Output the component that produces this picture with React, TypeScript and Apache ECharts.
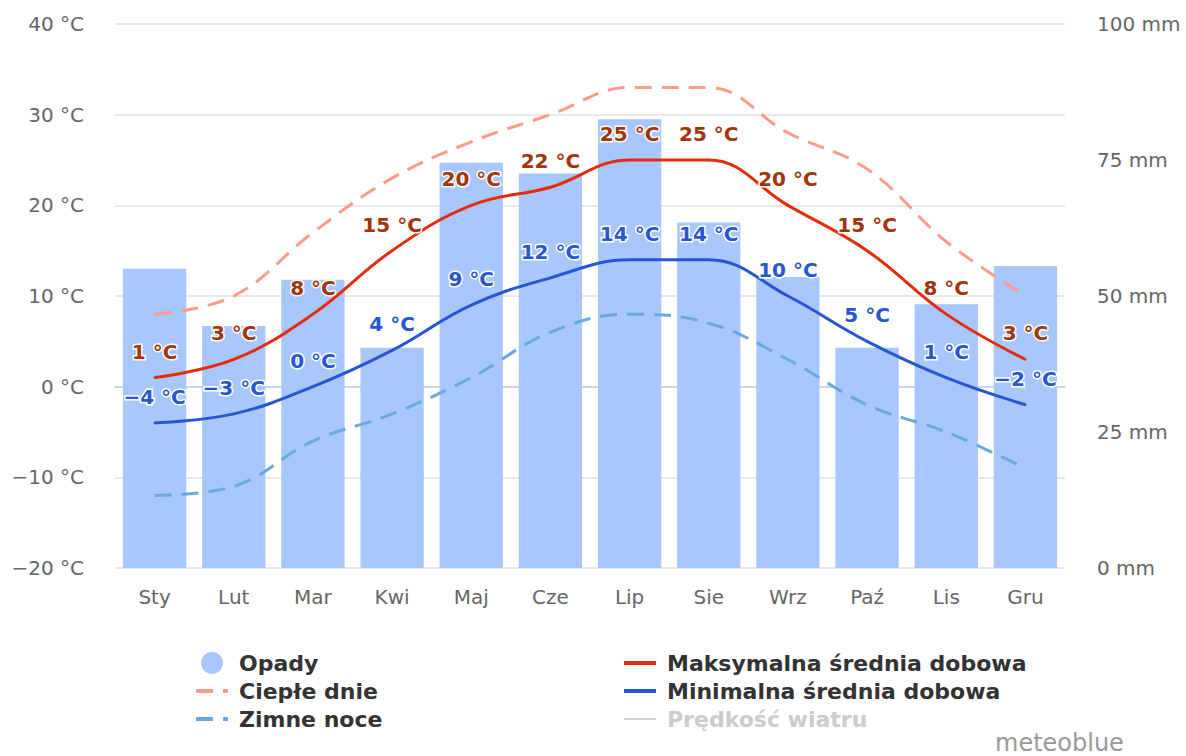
import React, { useEffect, useRef } from "react";
import * as echarts from "echarts";

const months = ["Sty", "Lut", "Mar", "Kwi", "Maj", "Cze", "Lip", "Sie", "Wrz", "Paź", "Lis", "Gru"];
const precipitation = [55, 44.5, 53, 40.5, 74.5, 72.5, 82.5, 63.5, 53.5, 40.5, 48.5, 55.5];
const maxTemp = [1, 3, 8, 15, 20, 22, 25, 25, 20, 15, 8, 3];
const minTemp = [-4, -3, 0, 4, 9, 12, 14, 14, 10, 5, 1, -2];
const warmDays = [8, 10, 17, 23, 27, 30, 33, 33, 28, 24, 16, 10];
const coldNights = [-12, -11, -6, -3, 1, 6, 8, 7, 3, -2, -5, -9];
const windSpeed: number[] = [];

const tempTicks = { min: -20, max: 40, interval: 10 };
const precTicks = { min: 0, max: 100, interval: 25 };

const FONT = "DejaVu Sans";

const fmtNum = (v: number) => (v < 0 ? "\u2212" + Math.abs(v) : String(v));

export default function App() {
  const ref = useRef<HTMLDivElement>(null);
  useEffect(() => {
    if (!ref.current) return;
    const chart = echarts.init(ref.current, undefined, { renderer: "svg" });
    const labelStyle = (color: string) => ({
      show: true,
      position: "top" as const,
      distance: 15,
      color,
      fontFamily: FONT,
      fontSize: 20,
      fontWeight: "bold" as const,
      textBorderColor: "#ffffff",
      textBorderWidth: 3,
      formatter: (p: any) => fmtNum(p.value) + " °C",
    });
    const hideSym = { opacity: 0 };
    const legendCommon = {
      orient: "vertical" as const,
      top: 652,
      padding: 0,
      itemWidth: 32,
      itemHeight: 22,
      itemGap: 6,
      inactiveColor: "#cccccc",
      lineStyle: { width: 4 },
      textStyle: {
        fontFamily: FONT,
        fontSize: 22,
        fontWeight: "bold" as const,
        color: "#333333",
        padding: [0, 0, 0, 6],
        lineHeight: 22,
      },
    };
    chart.setOption({
      animation: false,
      backgroundColor: "#ffffff",
      textStyle: { fontFamily: FONT },
      grid: { left: 115, right: 121, top: 24, bottom: 188, containLabel: false },
      legend: [
        {
          ...legendCommon,
          left: 194,
          data: [
            { name: "Opady", icon: "circle" },
            { name: "Ciepłe dnie", itemStyle: hideSym },
            { name: "Zimne noce", itemStyle: hideSym },
          ],
        },
        {
          ...legendCommon,
          left: 622,
          data: [
            { name: "Maksymalna średnia dobowa", itemStyle: hideSym },
            { name: "Minimalna średnia dobowa", itemStyle: hideSym },
            { name: "Prędkość wiatru", itemStyle: hideSym },
          ],
          selected: { "Prędkość wiatru": false },
        },
      ],
      xAxis: {
        type: "category",
        data: months,
        boundaryGap: true,
        axisLine: { show: true, lineStyle: { color: "#ccd6eb", width: 2 } },
        axisTick: { show: false },
        axisLabel: { margin: 19, fontSize: 20, color: "#666666", fontFamily: FONT },
        splitLine: { show: false },
      },
      yAxis: [
        {
          type: "value",
          ...tempTicks,
          axisLine: { show: false },
          axisTick: { show: false },
          axisLabel: {
            margin: 31,
            fontSize: 20,
            color: "#666666",
            fontFamily: FONT,
            formatter: (v: number) => fmtNum(v) + " °C",
          },
          splitLine: { show: true, lineStyle: { color: "#e9e9e9", width: 2 } },
        },
        {
          type: "value",
          ...precTicks,
          position: "right",
          axisLine: { show: false },
          axisTick: { show: false },
          axisLabel: {
            margin: 32,
            fontSize: 20,
            color: "#666666",
            fontFamily: FONT,
            formatter: (v: number) => v + " mm",
          },
          splitLine: { show: false },
        },
      ],
      series: [
        {
          name: "Opady",
          type: "bar",
          yAxisIndex: 1,
          data: precipitation,
          barCategoryGap: "20%",
          itemStyle: { color: "#a8c8fd" },
          z: 1,
        },
        {
          name: "Ciepłe dnie",
          type: "line",
          data: warmDays,
          smooth: 0.4,
          symbol: "none",
          lineStyle: { color: "#ff9a8c", width: 3, type: [17, 10] },
          itemStyle: { color: "#ff9a8c" },
          z: 3,
        },
        {
          name: "Zimne noce",
          type: "line",
          data: coldNights,
          smooth: 0.4,
          symbol: "none",
          lineStyle: { color: "#6aa8e2", width: 3, type: [17, 10] },
          itemStyle: { color: "#6aa8e2" },
          z: 3,
        },
        {
          name: "Maksymalna średnia dobowa",
          type: "line",
          data: maxTemp,
          smooth: 0.4,
          symbol: "circle",
          symbolSize: 2,
          lineStyle: { color: "#e52b0c", width: 3 },
          itemStyle: { color: "#e52b0c" },
          label: labelStyle("#a0360c"),
          z: 4,
        },
        {
          name: "Minimalna średnia dobowa",
          type: "line",
          data: minTemp,
          smooth: 0.4,
          symbol: "circle",
          symbolSize: 2,
          lineStyle: { color: "#2856d2", width: 3 },
          itemStyle: { color: "#2856d2" },
          label: labelStyle("#2856d2"),
          z: 4,
        },
        {
          name: "Prędkość wiatru",
          type: "line",
          data: windSpeed,
          symbol: "none",
          lineStyle: { color: "#cccccc", width: 3 },
          itemStyle: { color: "#cccccc" },
        },
      ],
      graphic: [
        {
          type: "text",
          left: 995,
          top: 731,
          style: { text: "meteoblue", fill: "#999999", fontSize: 24, fontFamily: FONT },
        },
      ],
    });
    return () => chart.dispose();
  }, []);
  return (
    <div
      ref={ref}
      style={{ position: "absolute", left: 0, top: 0, width: 1186, height: 756 }}
    />
  );
}
